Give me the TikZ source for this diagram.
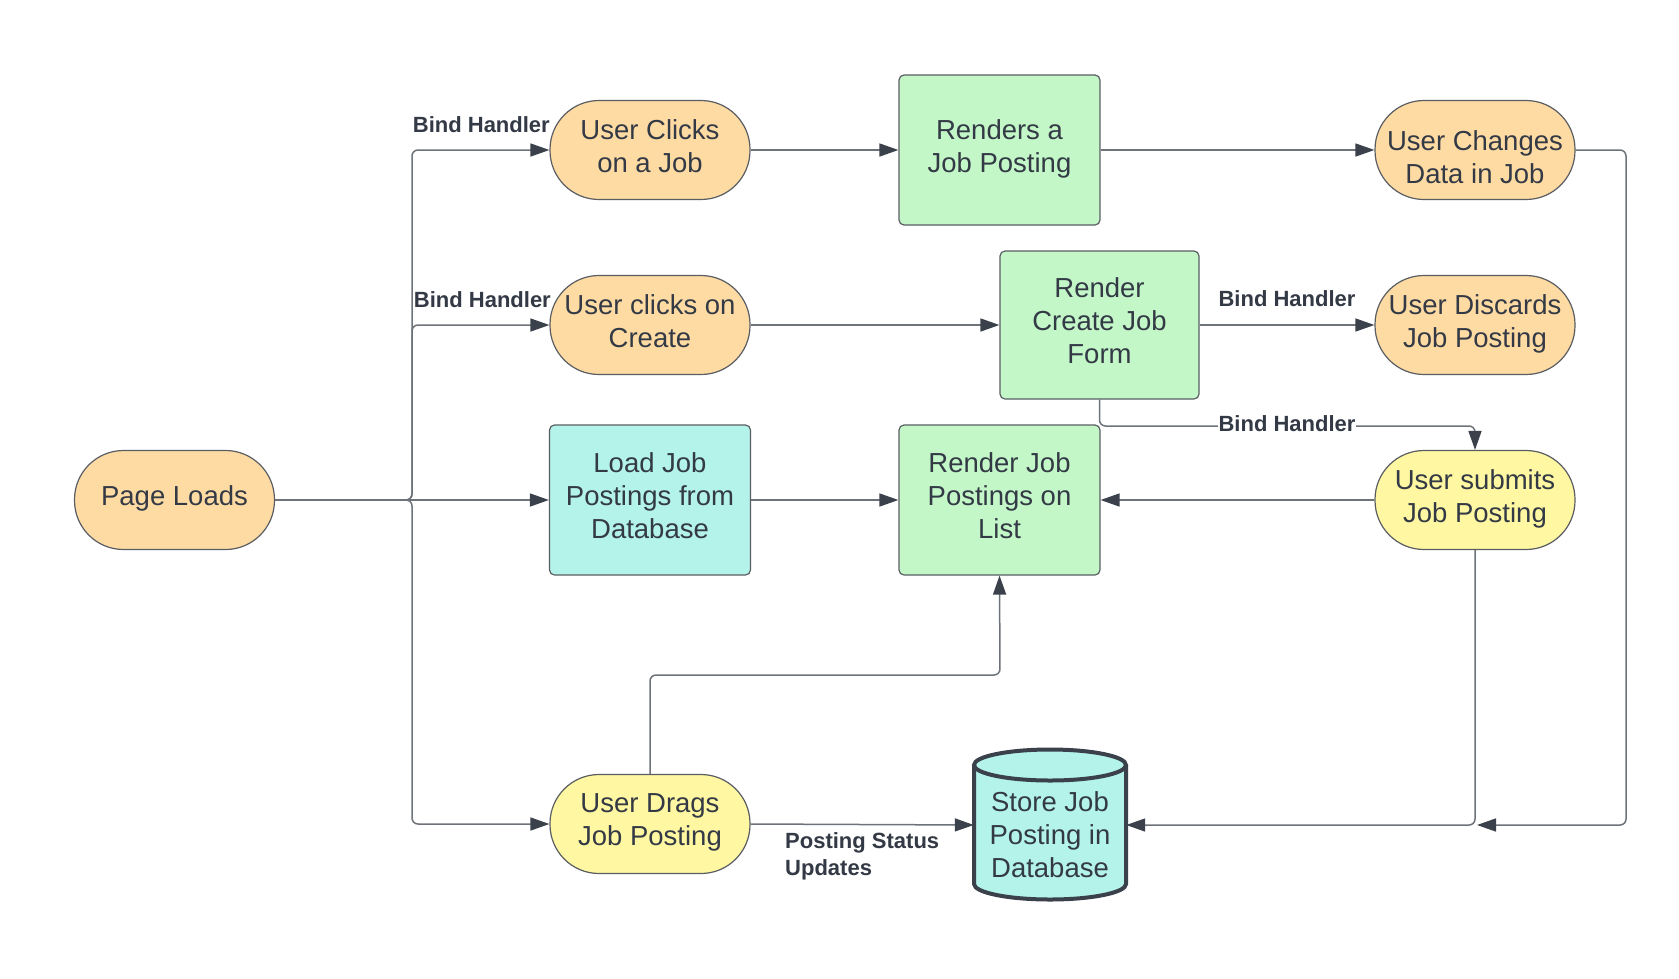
\documentclass[tikz,border=0pt]{standalone}
\usepackage{fontspec}
\setmainfont{Liberation Sans}
\usetikzlibrary{arrows.meta}
\definecolor{orangefill}{HTML}{FFDBA4}
\definecolor{greenfill}{HTML}{C3F7C8}
\definecolor{cyanfill}{HTML}{B4F3EA}
\definecolor{yellowfill}{HTML}{FFF7A1}
\definecolor{bordercol}{HTML}{5A5E63}
\definecolor{txtcol}{HTML}{333A45}
\definecolor{linecol}{HTML}{6E737A}
\definecolor{tipcol}{HTML}{3A414A}
\tikzset{
  base/.style={draw=bordercol, line width=1.2pt, text=txtcol, align=center,
    font=\fontsize{27.5}{33}\selectfont, inner sep=0pt, text depth=8pt},
  term/.style={base, rectangle, rounded corners=49pt, minimum width=200pt, minimum height=99pt},
  proc/.style={base, rectangle, rounded corners=5pt, minimum width=201pt, minimum height=150pt},
  conn/.style={draw=linecol, line width=1.5pt, rounded corners=6pt},
  arr/.style={conn, -{Triangle[length=19pt,width=13pt,fill=tipcol,color=tipcol]}},
  lbl/.style={text=txtcol, font=\fontsize{22}{27}\selectfont\bfseries, inner sep=0pt},
}
\begin{document}
\begin{tikzpicture}[x=1pt,y=-1pt]
\fill[white] (0,0) rectangle (1679,978);
\useasboundingbox (0,0) rectangle (1679,978);

% nodes
\node[term, fill=orangefill] (pl) at (174.5,500) {Page Loads};
\node[term, fill=orangefill] (uc) at (650,150) {User Clicks\\on a Job};
\node[term, fill=orangefill] (ucc) at (650,325) {User clicks on\\Create};
\node[proc, fill=cyanfill] (load) at (650,500) {Load Job\\Postings from\\Database};
\node[term, fill=yellowfill] (ud) at (650,824) {User Drags\\Job Posting};
\node[proc, fill=greenfill] (rjp) at (999.5,150) {Renders a\\Job Posting};
\node[proc, fill=greenfill, minimum width=199pt, minimum height=148pt] (rcf) at (1099.5,325) {Render\\Create Job\\Form};
\node[proc, fill=greenfill] (rjl) at (999.5,500) {Render Job\\Postings on\\List};
\node[term, fill=orangefill, text height=74pt] (uch) at (1475,150) {User Changes\\Data in Job};
\node[term, fill=orangefill] (udis) at (1475,325) {User Discards\\Job Posting};
\node[term, fill=yellowfill] (us) at (1475,500) {User submits\\Job Posting};

% database cylinder
\fill[cyanfill] (974,765) -- (974,884) arc(180:0:76 and 15.5) -- (1126,765) arc(0:-180:76 and 15.5) -- cycle;
\draw[tipcol, line width=4pt] (974,765) -- (974,884) arc(180:0:76 and 15.5) -- (1126,765);
\draw[tipcol, line width=4pt] (1050,765) ellipse (76 and 15.5);
\node[text=txtcol, align=center, font=\fontsize{27.5}{33}\selectfont, inner sep=0pt,
  text height=112pt, text depth=8pt,
  minimum width=152pt, minimum height=150pt] (db) at (1050,825) {Store Job\\Posting in\\Database};

% coordinates
\coordinate (j) at (412,500);
\coordinate (k) at (1475,426);
\coordinate (rc) at (1626,825);
\coordinate (m) at (1477,825);
\coordinate (q) at (1000,675);

% connectors
\draw[arr] (pl.east) -- (j) |- (uc.west);
\draw[arr] (pl.east) -- (j) |- (ucc.west);
\draw[arr] (pl.east) -- (load.west);
\draw[arr] (pl.east) -- (j) |- (ud.west);
\draw[arr] (uc.east) -- (rjp.west);
\draw[arr] (rjp.east) -- (uch.west);
\draw[arr] (ucc.east) -- (rcf.west);
\draw[arr] (rcf.east) -- (udis.west);
\draw[arr] (load.east) -- (rjl.west);
\draw[arr] (us.west) -- (rjl.east);
\draw[arr] (rcf.south) |- (k) -- (us.north);
\draw[arr] (us.south) |- (db.east);
\draw[arr] (uch.east) -| (rc) -- (m);
\draw[arr] (ud.north) |- (q) -- (rjl.south);
\draw[arr] (ud.east) -- (db.west);

% labels
\node[lbl, anchor=east] (l1) at (550,125) {Bind Handler};
\node[lbl, anchor=east] (l2) at (551,300) {Bind Handler};
\node[lbl] (l3) at (1287,299) {Bind Handler};
\node[lbl, fill=white, inner xsep=1pt] (l4) at (1287,424) {Bind Handler};
\node[lbl, anchor=west, align=left] (l5) at (785,856) {Posting Status\\Updates};
\end{tikzpicture}
\end{document}
